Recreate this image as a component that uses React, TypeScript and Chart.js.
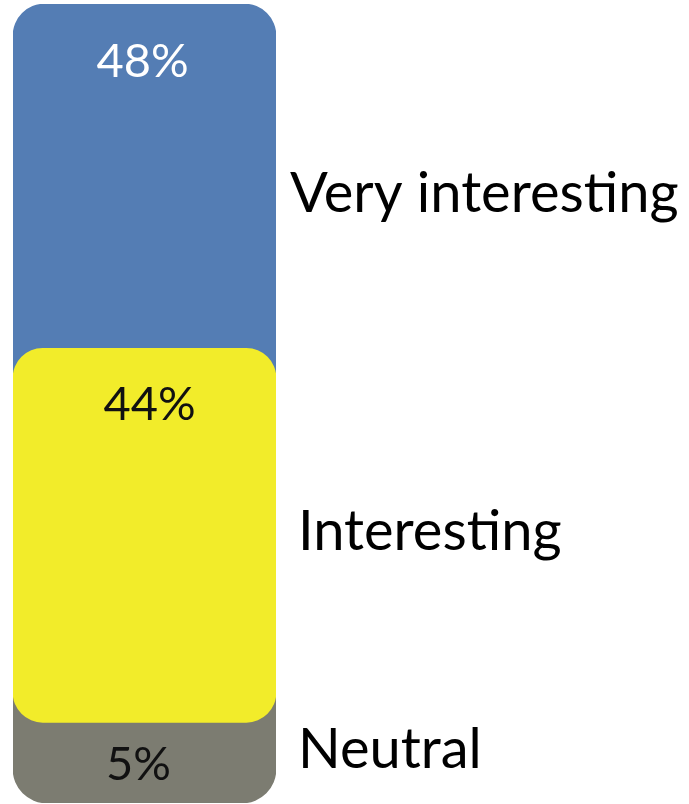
import React, { useEffect, useRef } from "react";
import { Chart, registerables } from "chart.js";

Chart.register(...registerables);

// Categories (top to bottom) and the shares printed on the bar
const categories = ["Very interesting", "Interesting", "Neutral"];
const shares = [48, 44, 5];
// Visible extent of each rounded segment along the bar (0 = bottom, 100 = top)
const segmentFrom = [50, 10.1, 0];
const segmentTo = [100, 56.9, 16];
const colors = ["#547DB4", "#F2EC2A", "#7C7C71"];
const shareTextColors = ["#FFFFFF", "#111111", "#111111"];

const FONT = "Lato, 'Open Sans', sans-serif";

const labelPlugin = {
  id: "segmentLabels",
  afterDatasetsDraw(chart: any) {
    const { ctx, chartArea, scales } = chart;
    const y = scales.y;
    const cx = (chartArea.left + chartArea.right) / 2;
    // baselines in bar units
    const shareBase = [90.86, 47.93, 2.88];
    const shareDx = [-2, 5, -6];
    const nameBase = [74.0, 31.66, 4.38];
    const nameDx = [14, 22, 22];
    ctx.save();
    ctx.textBaseline = "alphabetic";
    for (let i = 0; i < categories.length; i++) {
      ctx.font = `400 47px ${FONT}`;
      ctx.textAlign = "center";
      ctx.fillStyle = shareTextColors[i];
      ctx.fillText(`${shares[i]}%`, cx + shareDx[i], y.getPixelForValue(shareBase[i]));
      ctx.font = `400 56px ${FONT}`;
      ctx.textAlign = "left";
      ctx.fillStyle = "#000000";
      ctx.fillText(categories[i], chartArea.right + nameDx[i], y.getPixelForValue(nameBase[i]));
    }
    ctx.restore();
  },
};

export default function App() {
  const ref = useRef<HTMLCanvasElement | null>(null);
  useEffect(() => {
    if (!ref.current) return;
    const radii = [
      { topLeft: 32, topRight: 32, bottomLeft: 0, bottomRight: 0 },
      { topLeft: 30, topRight: 30, bottomLeft: 30, bottomRight: 30 },
      { topLeft: 0, topRight: 0, bottomLeft: 34, bottomRight: 34 },
    ];
    const drawOrder = [2, 0, 1];
    const chart = new Chart(ref.current, {
      type: "bar",
      data: {
        labels: ["Rating"],
        datasets: categories.map((c, i) => ({
          label: c,
          data: [[segmentFrom[i], segmentTo[i]]],
          backgroundColor: colors[i],
          borderWidth: 0,
          borderSkipped: false,
          borderRadius: radii[i],
          grouped: false,
          barPercentage: 1,
          categoryPercentage: 1,
          order: drawOrder[i],
        })) as any,
      },
      options: {
        responsive: false,
        animation: false,
        events: [],
        layout: { padding: { left: 13, right: 413, top: 4, bottom: 1 } },
        plugins: { legend: { display: false }, tooltip: { enabled: false } },
        scales: {
          x: { display: false },
          y: { display: false, min: 0, max: 100 },
        },
      },
      plugins: [labelPlugin],
    });
    return () => chart.destroy();
  }, []);
  return (
    <canvas
      ref={ref}
      width={689}
      height={804}
      style={{ position: "absolute", left: 0, top: 0, width: 689, height: 804, display: "block" }}
    />
  );
}
